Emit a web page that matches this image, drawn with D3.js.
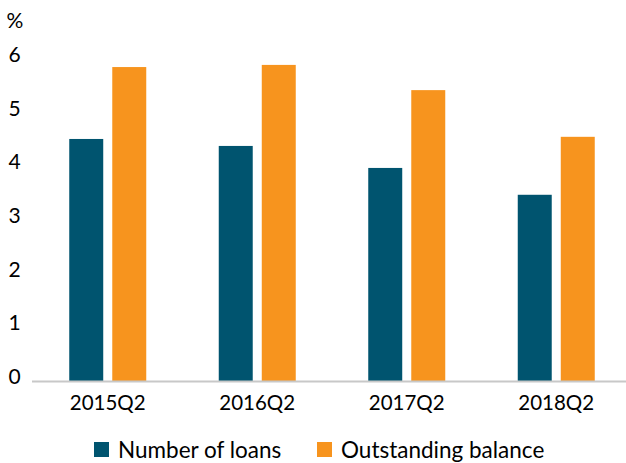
<!DOCTYPE html>
<html>
<head>
<meta charset="utf-8">
<script src="https://cdn.jsdelivr.net/npm/d3@7"></script>
<style>
  html, body { margin: 0; padding: 0; background: #fff; }
  svg { display: block; font-family: Lato, "Open Sans", sans-serif; }
</style>
</head>
<body>
<svg id="chart" width="626" height="463"></svg>
<script>
// Quarterly shares (%), by count of loans and by outstanding balance
const quarters = ["2015Q2", "2016Q2", "2017Q2", "2018Q2"];
const seriesNames = ["Number of loans", "Outstanding balance"];
const numberOfLoans = [4.51, 4.38, 3.97, 3.47];
const outstandingBalance = [5.85, 5.89, 5.42, 4.55];
const yTicks = [0, 1, 2, 3, 4, 5, 6];
const unitLabel = "%";

const colors = { "Number of loans": "#00546F", "Outstanding balance": "#F7941E" };

const rows = quarters.map((q, i) => ({
  quarter: q,
  values: [
    { key: seriesNames[0], value: numberOfLoans[i] },
    { key: seriesNames[1], value: outstandingBalance[i] }
  ]
}));

const svg = d3.select("#chart");

const y = d3.scaleLinear().domain([0, 6]).range([381, 59]);
const x0 = d3.scaleBand().domain(quarters).range([33, 631]).padding(0);
const groupW = 77;
const x1 = d3.scaleBand().domain(seriesNames)
  .range([x0.bandwidth() / 2 - groupW / 2, x0.bandwidth() / 2 + groupW / 2])
  .paddingInner(0.21).paddingOuter(0);

// bars
const g = svg.append("g");
g.selectAll("g.grp").data(rows).join("g")
  .attr("class", "grp")
  .attr("transform", d => `translate(${x0(d.quarter)},0)`)
  .selectAll("rect").data(d => d.values).join("rect")
  .attr("x", d => x1(d.key))
  .attr("width", x1.bandwidth())
  .attr("y", d => y(d.value))
  .attr("height", d => y(0) - y(d.value))
  .attr("fill", d => colors[d.key]);

// baseline
svg.append("line")
  .attr("x1", 32).attr("x2", 626)
  .attr("y1", y(0) + 0.5).attr("y2", y(0) + 0.5)
  .attr("stroke", "#C8C8C8").attr("stroke-width", 2);

// y tick labels
svg.append("g").selectAll("text").data(yTicks).join("text")
  .attr("x", 14.5)
  .attr("y", d => y(d) + 3)
  .attr("text-anchor", "middle")
  .attr("font-size", 21)
  .attr("fill", "#000")
  .text(d => d);

svg.append("text")
  .attr("x", 15).attr("y", 28)
  .attr("text-anchor", "middle")
  .attr("font-size", 21)
  .text(unitLabel);

// x axis labels
svg.append("g").selectAll("text").data(quarters).join("text")
  .attr("x", d => x0(d) + x0.bandwidth() / 2)
  .attr("y", 410)
  .attr("text-anchor", "middle")
  .attr("font-size", 20.5)
  .text(d => d);

// legend
const legendX = [94, 317];
const leg = svg.append("g").selectAll("g").data(seriesNames).join("g")
  .attr("transform", (d, i) => `translate(${legendX[i]},442)`);
leg.append("rect").attr("width", 15).attr("height", 15).attr("fill", d => colors[d]);
leg.append("text").attr("x", 24).attr("y", 15.5)
  .attr("font-size", 22.5)
  .text(d => d);
</script>
</body>
</html>
